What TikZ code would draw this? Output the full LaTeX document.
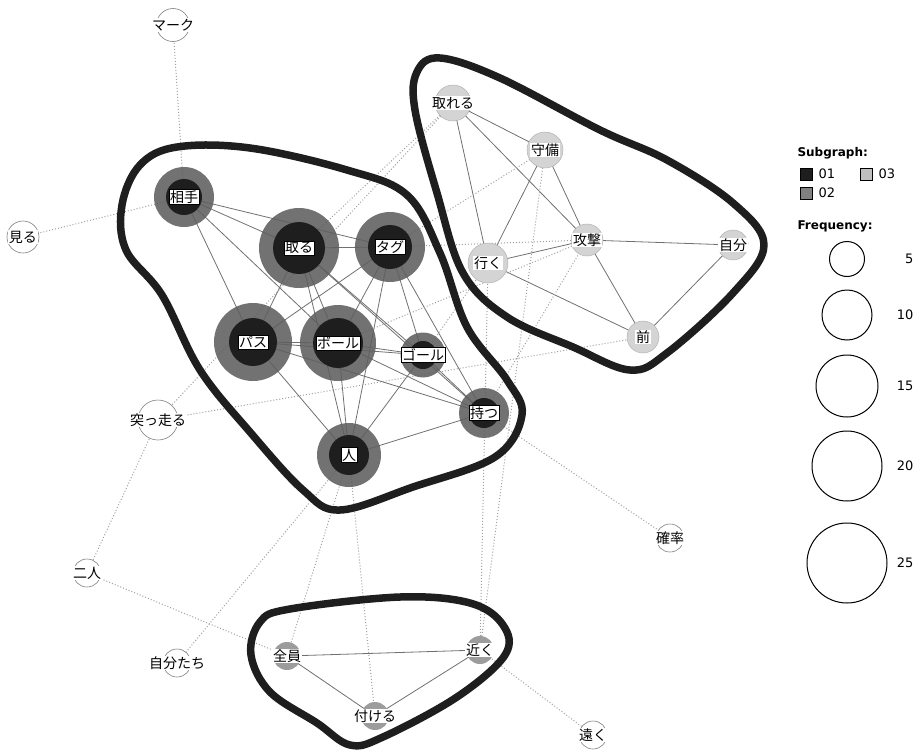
\documentclass[tikz,border=0pt]{standalone}
\usepackage{fontspec}
\setmainfont{DejaVu Sans}
\newfontfamily\jpfont{Noto Sans CJK JP}
\usetikzlibrary{backgrounds}
\definecolor{RingGray}{HTML}{5E5E5E}
\definecolor{CoreDark}{HTML}{1E1E1E}
\definecolor{PaleGray}{HTML}{D4D4D4}
\definecolor{MidGray}{HTML}{9C9C9C}
\definecolor{EdgeGray}{HTML}{707070}
\definecolor{DotGray}{HTML}{A0A0A0}

\begin{document}
\begin{tikzpicture}[x=1pt, y=-1pt,
        ring/.style={circle, fill=RingGray, fill opacity=0.88, inner sep=0pt},
        core/.style={circle, fill=CoreDark, inner sep=0pt},
        tag/.style={fill=white, draw=black, line width=0.4pt, inner sep=1.2pt, font=\jpfont\fontsize{14}{15}\selectfont},
        pale/.style={circle, fill=PaleGray, draw=gray!60, line width=0.5pt, inner sep=0pt},
        mid/.style={circle, fill=MidGray, inner sep=0pt},
        lone/.style={circle, fill=white, draw=gray, line width=0.6pt, inner sep=0pt},
        word/.style={fill=white, inner sep=0.8pt, font=\jpfont\fontsize{14}{15}\selectfont},
        edge/.style={draw=EdgeGray, line width=0.8pt},
        link/.style={draw=DotGray, line width=1pt, dotted},
        hull/.style={draw=CoreDark, line width=7.5pt, line join=round},
        keybox/.style={draw=black, line width=0.5pt, minimum size=12pt, inner sep=0pt},
        keycircle/.style={circle, draw=black, line width=1pt, inner sep=0pt},
        keytext/.style={font=\fontsize{13}{14}\selectfont}
    ]
        \useasboundingbox (0,0) rectangle (921,755);

        % subgraph 01 (big words)
        \node [ring, minimum size=60pt] (aite) at (184,197) {};
        \node [core, minimum size=36pt] at (aite) {};
        \node [tag] at (aite) {相手};
        \node [ring, minimum size=80pt] (toru) at (299,248) {};
        \node [core, minimum size=52pt] at (toru) {};
        \node [tag] at (toru) {取る};
        \node [ring, minimum size=70pt] (tagu) at (390,247) {};
        \node [core, minimum size=44pt] at (tagu) {};
        \node [tag] at (tagu) {タグ};
        \node [ring, minimum size=78pt] (pasu) at (253,342) {};
        \node [core, minimum size=48pt] at (pasu) {};
        \node [tag] at (pasu) {パス};
        \node [ring, minimum size=76pt] (booru) at (338,343) {};
        \node [core, minimum size=50pt] at (booru) {};
        \node [tag] at (booru) {ボール};
        \node [ring, minimum size=45pt] (gooru) at (423,355) {};
        \node [core, minimum size=28pt] at (gooru) {};
        \node [tag] at (gooru) {ゴール};
        \node [ring, minimum size=50pt] (motsu) at (484,413) {};
        \node [core, minimum size=30pt] at (motsu) {};
        \node [tag] at (motsu) {持つ};
        \node [ring, minimum size=64pt] (hito) at (349,455) {};
        \node [core, minimum size=40pt] at (hito) {};
        \node [tag] at (hito) {人};

        % subgraph 03
        \node [pale, minimum size=36pt] (toreru) at (453,103) {};
        \node [word] at (toreru) {取れる};
        \node [pale, minimum size=36pt] (shubi) at (545,150) {};
        \node [word] at (shubi) {守備};
        \node [pale, minimum size=32pt] (kougeki) at (587,240) {};
        \node [word] at (kougeki) {攻撃};
        \node [pale, minimum size=40pt] (iku) at (488,263) {};
        \node [word] at (iku) {行く};
        \node [pale, minimum size=30pt] (jibun) at (733,245) {};
        \node [word] at (jibun) {自分};
        \node [pale, minimum size=32pt] (mae) at (643,337) {};
        \node [word] at (mae) {前};

        % subgraph 02
        \node [mid, minimum size=28pt] (zenin) at (287,656) {};
        \node [word] at (zenin) {全員};
        \node [mid, minimum size=28pt] (chikaku) at (480,650) {};
        \node [word] at (chikaku) {近く};
        \node [mid, minimum size=28pt] (tsukeru) at (375,716) {};
        \node [word] at (tsukeru) {付ける};

        % words outside the subgraphs
        \node [lone, minimum size=33pt] (maaku) at (173,25) {};
        \node [word] at (maaku) {マーク};
        \node [lone, minimum size=32pt] (miru) at (23,237) {};
        \node [word] at (miru) {見る};
        \node [lone, minimum size=40pt] (tsuppashiru) at (158,420) {};
        \node [word] at (tsuppashiru) {突っ走る};
        \node [lone, minimum size=28pt] (futari) at (87,573) {};
        \node [word] at (futari) {二人};
        \node [lone, minimum size=28pt] (jibuntachi) at (177,663) {};
        \node [word] at (jibuntachi) {自分たち};
        \node [lone, minimum size=28pt] (kakuritsu) at (670,538) {};
        \node [word] at (kakuritsu) {確率};
        \node [lone, minimum size=28pt] (tooku) at (593,735) {};
        \node [word] at (tooku) {遠く};

        \begin{scope}[on background layer]
            % co-occurrence inside subgraphs
            \foreach \a/\b in {aite/toru, aite/tagu, aite/pasu, aite/booru,
                toru/tagu, toru/pasu, toru/booru, toru/gooru, toru/motsu, toru/hito,
                tagu/pasu, tagu/booru, tagu/gooru, tagu/motsu, tagu/hito,
                pasu/booru, pasu/gooru, pasu/motsu, pasu/hito,
                booru/gooru, booru/motsu, booru/hito, gooru/motsu, gooru/hito, motsu/hito,
                toreru/shubi, toreru/kougeki, toreru/iku, shubi/iku, shubi/kougeki,
                kougeki/iku, kougeki/jibun, kougeki/mae, iku/mae, jibun/mae,
                zenin/chikaku, zenin/tsukeru, tsukeru/chikaku}
                \draw [edge] (\a.center) -- (\b.center);
            % co-occurrence across subgraphs
            \foreach \a/\b in {maaku/aite, miru/aite, toreru/tsuppashiru, toreru/toru,
                tsuppashiru/mae, tsuppashiru/futari, futari/zenin,
                hito/jibuntachi, hito/zenin, hito/tsukeru, motsu/kakuritsu,
                chikaku/tooku, iku/chikaku, shubi/chikaku, kougeki/motsu,
                tagu/kougeki, shubi/tagu, booru/kougeki, iku/gooru}
                \draw [link] (\a.center) -- (\b.center);
        \end{scope}

        % subgraph outlines
        \draw [hull] plot [smooth cycle, tension=0.6] coordinates {(177,147) (250,148) (347,170) (407,195) (440,253) (467,327) (507,380) (522,415) (495,457) (413,487) (340,510) (303,490) (250,432) (200,370) (162,295) (126,250) (122,205) (140,165)};
        \draw [hull] plot [smooth cycle, tension=0.6] coordinates {(440,58) (500,78) (600,130) (667,160) (733,203) (764,245) (733,293) (667,353) (630,370) (573,347) (507,317) (463,273) (437,193) (415,110) (417,72)};
        \draw [hull] plot [smooth cycle, tension=0.6] coordinates {(290,609) (400,597) (470,603) (503,625) (505,655) (457,697) (383,737) (350,745) (317,723) (270,692) (251,655) (260,622)};

        % legend
        \node [anchor=west, font=\bfseries\fontsize{12}{13}\selectfont] (subhead) at (794,153) {Subgraph:};
        \node [keybox, fill=CoreDark] (key01) at (806,174) {};
        \node [keytext, anchor=west] at (815,174) {01};
        \node [keybox, fill=PaleGray!90!black] (key03) at (866,174) {};
        \node [keytext, anchor=west] at (875,174) {03};
        \node [keybox, fill=gray] (key02) at (806,193) {};
        \node [keytext, anchor=west] at (815,193) {02};
        \node [anchor=west, font=\bfseries\fontsize{12}{13}\selectfont] (freqhead) at (794,226) {Frequency:};
        \foreach \n/\y/\d in {5/259/35, 10/315/50, 15/386/62, 20/466/70, 25/563/80} {
            \node [keycircle, minimum size=\d pt] (freq\n) at (847,\y) {};
            \node [keytext, anchor=east] at (917,\y) {\n};
        }
    \end{tikzpicture}
\end{document}
